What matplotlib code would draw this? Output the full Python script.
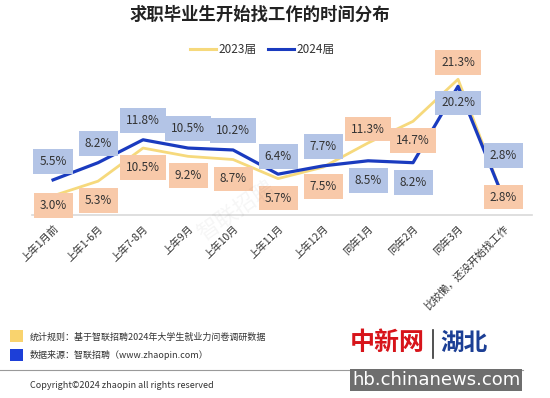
import matplotlib
matplotlib.use("Agg")
import matplotlib.pyplot as plt
from matplotlib.patches import Rectangle
from matplotlib.lines import Line2D

plt.rcParams['font.family'] = ['Noto Sans CJK SC', 'DejaVu Sans']

categories = ["上年1月前", "上年1-6月", "上年7-8月", "上年9月", "上年10月", "上年11月",
              "上年12月", "同年1月", "同年2月", "同年3月", "比较懒，还没开始找工作"]
y2023 = [3.0, 5.3, 10.5, 9.2, 8.7, 5.7, 7.5, 11.3, 14.7, 21.3, 2.8]
y2024 = [5.5, 8.2, 11.8, 10.5, 10.2, 6.4, 7.7, 8.5, 8.2, 20.2, 2.8]

# label offsets in points (up positive)
off2024 = [13, 14, 14, 14, 14, 13, 14, -14, -14, -12, 30]
off2023 = [-7, -14, -14, -14, -14, -14, -14, 10, -14, 12, 0]

c23 = "#f6d97c"
c24 = "#1a3bbf"
box23 = "#f8c9a9"
box24 = "#b3c4e6"

fig = plt.figure(figsize=(5.5, 3.98), dpi=100)
ax = fig.add_axes([0.058, 0.46, 0.909, 0.40])
x = list(range(len(categories)))
ax.plot(x, y2023, color=c23, lw=2.0, zorder=2)
ax.plot(x, y2024, color=c24, lw=2.3, zorder=3)

for i in x:
    ax.annotate(f"{y2024[i]:.1f}%", (i, y2024[i]), xytext=(0, off2024[i]),
                textcoords="offset points", ha="center", va="center", fontsize=8.5,
                color="#333333", zorder=5,
                bbox=dict(boxstyle="square,pad=0.5", fc=box24, ec="none"))
    ax.annotate(f"{y2023[i]:.1f}%", (i, y2023[i]), xytext=(0, off2023[i]),
                textcoords="offset points", ha="center", va="center", fontsize=8.5,
                color="#333333", zorder=5,
                bbox=dict(boxstyle="square,pad=0.5", fc=box23, ec="none"))

ax.set_xlim(-0.47, 10.64)
ax.set_ylim(0, 25)
ax.set_yticks([])
ax.set_xticks(x)
ax.set_xticklabels(categories, rotation=45, ha="right", rotation_mode="anchor",
                   fontsize=7.5, color="#333333")
ax.tick_params(axis="x", length=0, pad=6)
for s in ["top", "right", "left"]:
    ax.spines[s].set_visible(False)
ax.spines["bottom"].set_color("#d9d9d9")
ax.spines["bottom"].set_linewidth(1.2)

fig.text(0.473, 0.962, "求职毕业生开始找工作的时间分布", ha="center", va="center",
         fontsize=12.5, fontweight="bold", color="#222222")

handles = [Line2D([], [], color=c23, lw=2.2), Line2D([], [], color=c24, lw=2.2)]
fig.legend(handles, ["2023届", "2024届"], loc="center", bbox_to_anchor=(0.477, 0.875),
           ncol=2, frameon=False, fontsize=8.5, handlelength=2.2, handletextpad=0.2,
           columnspacing=1.0, labelcolor="#333333")

# watermark
fig.text(0.43, 0.47, "智联招聘", rotation=35, fontsize=16, color="#000000", alpha=0.04,
         ha="center", va="center")

# notes
fig.patches.append(Rectangle((10 / 550, 1 - 342 / 398), 13 / 550, 12 / 398,
                             transform=fig.transFigure, fc="#f9d36e", ec="none"))
fig.patches.append(Rectangle((10 / 550, 1 - 361 / 398), 13 / 550, 12 / 398,
                             transform=fig.transFigure, fc="#1d3fd8", ec="none"))
fig.text(30 / 550, 1 - 337 / 398, "统计规则：基于智联招聘2024年大学生就业力问卷调研数据",
         fontsize=6.5, va="center", color="#333333")
fig.text(30 / 550, 1 - 355 / 398, "数据来源：智联招聘（www.zhaopin.com）",
         fontsize=6.5, va="center", color="#333333")
fig.lines.append(Line2D([0, 0.95], [1 - 370 / 398] * 2, transform=fig.transFigure,
                        color="#9a9a9a", lw=0.8))
fig.text(30 / 550, 1 - 386 / 398, "Copyright©2024 zhaopin all rights reserved",
         fontsize=6.5, va="center", color="#333333")

# site logo
fig.text(350 / 550, 1 - 343 / 398, "中新网", fontsize=18, fontweight="bold",
         color="#d7141a", va="center")
fig.lines.append(Line2D([433 / 550] * 2, [1 - 330 / 398, 1 - 358 / 398],
                        transform=fig.transFigure, color="#333333", lw=1.2))
fig.text(440 / 550, 1 - 343 / 398, "湖北", fontsize=17, fontweight="bold",
         color="#1c3f95", va="center")
fig.text(352 / 550, 1 - 380 / 398, "hb.chinanews.com", fontsize=13, color="white",
         va="center", family="DejaVu Sans",
         bbox=dict(boxstyle="square,pad=0.12", fc="#6e6e6e", ec="none"))

fig.savefig("out.png", dpi=100, facecolor="white")
